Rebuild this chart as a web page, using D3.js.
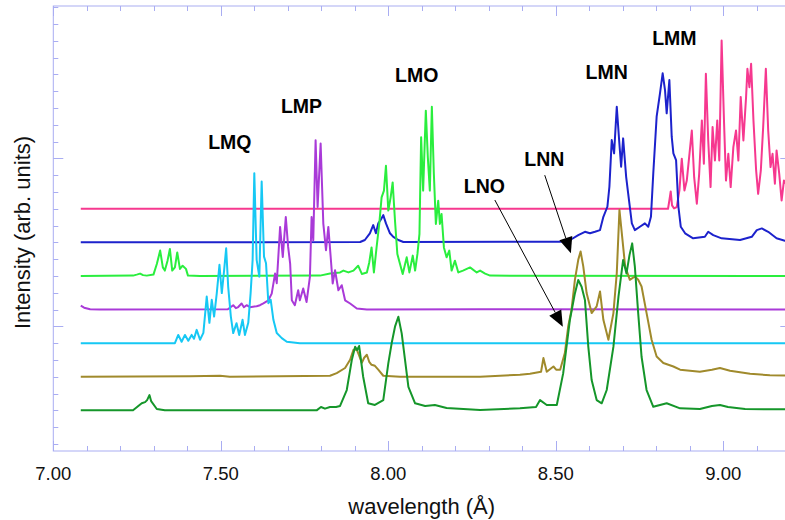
<!DOCTYPE html>
<html><head><meta charset="utf-8">
<script src="https://cdn.jsdelivr.net/npm/d3@7"></script>
<style>body{margin:0;background:#fff}svg{display:block}</style>
</head><body>
<svg id="chart" width="785" height="520"></svg>
<script>
// ---------- DATA ----------
// each spectrum: [wavelength (Å), intensity above its own baseline (arb. units)]
const specLMM = [[7.082,0],[8.835,0],[8.839,4.9],[8.843,10.3],[8.847,2],[8.853,0.2],[8.861,1],[8.869,10.9],[8.876,29.8],[8.884,10.9],[8.891,16.8],[8.899,32.7],[8.906,46.6],[8.913,18.8],[8.921,3],[8.928,20.8],[8.936,52.6],[8.942,26.8],[8.948,80.4],[8.955,40.7],[8.962,12.9],[8.968,48.6],[8.975,28.7],[8.982,52.6],[8.988,28.7],[8.995,100.2],[9.002,52.6],[9.008,16.8],[9.015,32.7],[9.022,12.9],[9.030,36.7],[9.038,46.6],[9.045,28.7],[9.052,66.6],[9.060,40.7],[9.068,66.6],[9.072,83.3],[9.078,72.4],[9.083,86.3],[9.090,52.6],[9.098,22.8],[9.104,8.9],[9.112,22.8],[9.119,48.6],[9.127,83.3],[9.134,46.6],[9.141,24.8],[9.147,32.7],[9.154,14.9],[9.159,34.7],[9.167,20.8],[9.174,4.9],[9.181,16.8],[9.199,10.9]];
const specLMN = [[7.082,0],[7.916,0.2],[7.930,1.4],[7.945,5.4],[7.955,10.3],[7.963,5.4],[7.970,11.3],[7.977,13.3],[7.985,16.2],[7.993,11.3],[8.005,5.4],[8.015,3.3],[8.030,1.4],[8.045,0.2],[8.513,0.4],[8.543,1.4],[8.567,4.3],[8.587,6.3],[8.602,5.4],[8.617,6.3],[8.632,7.3],[8.642,15.2],[8.654,21.2],[8.660,33.1],[8.667,60.9],[8.674,53],[8.682,80.7],[8.689,60.9],[8.695,45],[8.701,61.9],[8.710,39],[8.716,29.2],[8.727,11.3],[8.736,7.3],[8.751,9.3],[8.766,11.3],[8.776,9.3],[8.784,15.2],[8.791,41.1],[8.801,74.8],[8.811,88.7],[8.819,100.6],[8.826,90.6],[8.831,76.8],[8.839,96.6],[8.846,62.9],[8.851,53],[8.859,49],[8.866,21.2],[8.873,9.3],[8.886,5.4],[8.910,2.4],[8.945,3.3],[8.955,6.3],[8.970,4.3],[8.995,2.4],[9.050,1.4],[9.085,3.3],[9.100,7.3],[9.115,8.3],[9.134,6.3],[9.159,2.4],[9.184,1],[9.199,0.8]];
const specLMO = [[7.082,0],[7.238,0.2],[7.249,0.8],[7.259,1.4],[7.268,0.5],[7.279,0.2],[7.299,0.8],[7.309,7.1],[7.319,15.1],[7.327,5.1],[7.333,3.2],[7.341,9.1],[7.348,16.1],[7.355,3.2],[7.363,5.1],[7.370,14],[7.378,4.2],[7.386,6.1],[7.396,4.2],[7.402,0.2],[7.438,0],[7.796,0.2],[7.826,1.4],[7.856,2.1],[7.866,3.2],[7.881,2.1],[7.896,3.2],[7.910,6.1],[7.921,1.2],[7.936,2.1],[7.943,7.9],[7.950,17],[7.957,2.1],[7.965,17],[7.973,31],[7.980,46.8],[7.987,50.8],[7.993,65.6],[8.000,38.9],[8.007,46.8],[8.013,55.7],[8.020,32.9],[8.027,13.1],[8.035,7.1],[8.043,1.2],[8.055,11.1],[8.063,2.1],[8.073,12.1],[8.080,3.2],[8.087,13.1],[8.093,25],[8.098,82.5],[8.104,50.8],[8.112,98.4],[8.118,70.6],[8.124,50.8],[8.130,100.7],[8.136,60.7],[8.142,31],[8.149,44.8],[8.154,31],[8.159,36.9],[8.166,17],[8.174,11.1],[8.182,15.1],[8.189,3.2],[8.199,9.1],[8.209,2.1],[8.223,3.2],[8.244,5.1],[8.264,2.1],[8.274,3.2],[8.289,1.4],[8.304,0.2],[9.199,0]];
const specLMP = [[7.082,2.3],[7.092,1.1],[7.110,0.2],[7.139,0],[7.521,0.2],[7.537,2.6],[7.545,0.8],[7.552,1.5],[7.562,3.6],[7.569,1.4],[7.577,2.6],[7.587,1.4],[7.607,2],[7.617,2.6],[7.627,3.7],[7.642,5.5],[7.652,9.5],[7.662,21.4],[7.667,15.7],[7.677,49.2],[7.685,31.3],[7.694,55.1],[7.701,37.3],[7.707,27.4],[7.712,5.5],[7.721,2.6],[7.731,11.5],[7.736,5.5],[7.746,12.5],[7.756,4.5],[7.766,19.4],[7.771,55.1],[7.776,41.2],[7.783,100.8],[7.789,61.1],[7.798,98.8],[7.806,51.2],[7.814,35.3],[7.821,49.2],[7.828,31.3],[7.834,15.5],[7.841,23.4],[7.851,11.5],[7.861,14.5],[7.871,5.5],[7.886,3.6],[7.906,0.6],[7.936,0],[8.274,0.2],[9.199,0]];
const specLMQ = [[7.082,0],[7.363,0],[7.373,4.9],[7.383,0.8],[7.393,4.9],[7.403,1.4],[7.413,4.9],[7.420,2.6],[7.428,7.9],[7.438,2],[7.448,6.1],[7.458,27.7],[7.466,12.1],[7.473,25.8],[7.480,15.8],[7.488,29.8],[7.496,46.6],[7.503,29.8],[7.510,43.6],[7.516,56.5],[7.522,33.7],[7.530,15.8],[7.537,6],[7.547,11.9],[7.555,4.9],[7.565,13.9],[7.572,4.9],[7.582,12.1],[7.589,29.8],[7.595,49.6],[7.600,101.2],[7.607,49.6],[7.615,39.6],[7.622,96.2],[7.629,51.5],[7.635,47.6],[7.642,23.8],[7.649,25.8],[7.657,13.9],[7.667,6],[7.682,3],[7.697,0.8],[7.736,0],[9.199,0]];
const specLNO = [[7.082,0],[7.408,0.3],[7.498,0.6],[7.527,0],[7.826,0.6],[7.846,2.2],[7.871,5.2],[7.886,10.1],[7.896,16.1],[7.906,16.1],[7.913,12.5],[7.921,8.3],[7.928,11.3],[7.936,13.1],[7.943,8.9],[7.950,7.1],[7.960,6.5],[7.970,4.2],[7.985,0.6],[8.035,0],[8.274,0],[8.393,1.2],[8.423,1.8],[8.456,3],[8.463,11.1],[8.473,3],[8.493,6.1],[8.501,4.2],[8.513,4.2],[8.527,14.1],[8.537,29.9],[8.547,39.9],[8.557,57.7],[8.567,69.6],[8.574,74.6],[8.582,65.7],[8.592,49.8],[8.607,37.9],[8.622,41.9],[8.632,50.8],[8.642,33.9],[8.657,22],[8.672,37.9],[8.682,61.7],[8.690,99.4],[8.697,85.5],[8.707,65.7],[8.721,57.7],[8.736,59.7],[8.746,57.7],[8.756,53.7],[8.771,37.9],[8.786,22],[8.801,12.1],[8.821,8.2],[8.851,6.1],[8.871,4.2],[8.930,3],[8.966,4.2],[8.990,5.2],[9.020,3.6],[9.080,1.8],[9.139,0.9],[9.199,0.6]];
const specLNN = [[7.082,0],[7.238,0],[7.264,4.2],[7.274,4.9],[7.280,6.1],[7.287,9.1],[7.292,5.5],[7.309,0.8],[7.333,0],[7.786,0],[7.799,2],[7.811,1],[7.826,2],[7.844,2],[7.856,2.6],[7.876,12.1],[7.891,29.9],[7.901,37.9],[7.907,35.9],[7.913,38.3],[7.925,20],[7.940,4.2],[7.960,3.2],[7.985,6.1],[8.000,28],[8.010,39.9],[8.020,49.8],[8.030,55.7],[8.040,45.8],[8.050,29.9],[8.060,14],[8.080,4.2],[8.110,2.6],[8.139,3.2],[8.174,1.4],[8.274,0.2],[8.393,1.2],[8.441,2],[8.453,6.1],[8.473,3.2],[8.503,3.2],[8.522,22],[8.542,53.7],[8.557,69.6],[8.567,77.6],[8.577,73.6],[8.587,65.7],[8.597,37.9],[8.607,18],[8.622,6.1],[8.637,4.2],[8.652,12.1],[8.672,37.9],[8.687,67.6],[8.701,89.5],[8.711,81.5],[8.720,92.4],[8.728,99.4],[8.736,85.5],[8.746,57.7],[8.756,31.9],[8.771,12.1],[8.791,2.1],[8.831,4.2],[8.871,1.2],[8.930,0.8],[8.966,2.6],[8.990,3.2],[9.014,2],[9.065,0.8],[9.199,0.6]];

const seriesData    = [specLMM, specLMN, specLMO, specLMP, specLMQ, specLNO, specLNN];
const seriesOffsets = [170, 150, 130, 110, 90, 70, 50];
const seriesColors  = ["#f6388f", "#1c22cc", "#2aee3e", "#a93ad8", "#16c8f4", "#a08a2c", "#15962a"];

const peakLabels = ["LMQ", "LMP", "LMO", "LMN", "LMM", "LNN", "LNO"];
const peakLabelX = [7.527, 7.741, 8.085, 8.652, 8.854, 8.466, 8.287];
const peakLabelY = [205.4, 226.8, 245.7, 247.1, 267.6, 195.5, 179.2];

// arrows: start (x,y) -> tip (x,y)
const arrowFromX = [8.467, 8.318];
const arrowFromY = [190, 175.2];
const arrowToX   = [8.545, 8.521];
const arrowToY   = [143.5, 99.8];

const xDomain = [7.0, 9.2];
const yDomain = [25.8, 290.7];
const xMajorTicks = [7.0, 7.5, 8.0, 8.5, 9.0];

// ---------- DRAW ----------
const svg = d3.select("#chart");
const L = 53.3, R = 790.3, T = 6, B = 451;
const x = d3.scaleLinear().domain(xDomain).range([L, R]);
const y = d3.scaleLinear().domain(yDomain).range([B, T]);
const axisColor = "#a9adf2";
const font = "'Liberation Sans', Arial, Helvetica, sans-serif";

const xMinor = d3.range(70, 93).map(v => v / 10);
const yMinor = d3.range(30, 291, 10);
const isXMajor = v => xMajorTicks.some(m => Math.abs(m - v) < 1e-6);
const isYMajor = v => v % 100 === 0;

const axes = svg.append("g").attr("stroke", axisColor).attr("stroke-width", 1).attr("fill", "none");
axes.append("rect").attr("x", L).attr("y", T).attr("width", R - L).attr("height", B - T);
xMinor.forEach(v => {
  const len = isXMajor(v) ? 10 : 5;
  const px = Math.round(x(v)) + 0.5;
  axes.append("line").attr("x1", px).attr("x2", px).attr("y1", B).attr("y2", B - len);
  axes.append("line").attr("x1", px).attr("x2", px).attr("y1", T).attr("y2", T + len);
});
yMinor.forEach(v => {
  const len = isYMajor(v) ? 10 : 5;
  const py = Math.round(y(v)) + 0.5;
  axes.append("line").attr("x1", L).attr("x2", L + len).attr("y1", py).attr("y2", py);
  axes.append("line").attr("x1", R).attr("x2", R - len).attr("y1", py).attr("y2", py);
});

// tick labels
svg.append("g").selectAll("text").data(xMajorTicks).join("text")
  .attr("x", d => x(d)).attr("y", 480)
  .attr("text-anchor", "middle").attr("font-family", font).attr("font-size", 18.5).attr("fill", "#111")
  .text(d => d3.format(".2f")(d));

// axis titles
svg.append("text").attr("x", 421.7).attr("y", 514).attr("text-anchor", "middle")
  .attr("font-family", font).attr("font-size", 22).attr("fill", "#111").text("wavelength (Å)");
svg.append("text").attr("transform", "translate(30,232.5) rotate(-90)").attr("text-anchor", "middle")
  .attr("font-family", font).attr("font-size", 22).attr("fill", "#111").text("Intensity (arb. units)");

// spectra
const line = off => d3.line().x(d => x(d[0])).y(d => y(d[1] + off));
const g = svg.append("g");
seriesData.forEach((s, i) => {
  g.append("path").attr("d", line(seriesOffsets[i])(s))
    .attr("fill", "none").attr("stroke", seriesColors[i]).attr("stroke-width", 2)
    .attr("stroke-linejoin", "round");
});

// labels
svg.append("g").selectAll("text").data(peakLabels).join("text")
  .attr("x", (d, i) => x(peakLabelX[i])).attr("y", (d, i) => y(peakLabelY[i]))
  .attr("text-anchor", "middle").attr("font-family", font).attr("font-weight", "bold")
  .attr("font-size", 19.5).attr("fill", "#000").text(d => d);

// arrows
arrowFromX.forEach((_, i) => {
  const x1 = x(arrowFromX[i]), y1 = y(arrowFromY[i]), x2 = x(arrowToX[i]), y2 = y(arrowToY[i]);
  const ang = Math.atan2(y2 - y1, x2 - x1);
  const hl = 16, hw = 6.8;
  const bx = x2 - hl * Math.cos(ang), by = y2 - hl * Math.sin(ang);
  svg.append("line").attr("x1", x1).attr("y1", y1).attr("x2", bx).attr("y2", by)
    .attr("stroke", "#000").attr("stroke-width", 1);
  const p1 = [bx + hw * Math.sin(ang), by - hw * Math.cos(ang)];
  const p2 = [bx - hw * Math.sin(ang), by + hw * Math.cos(ang)];
  svg.append("path").attr("d", `M${x2},${y2}L${p1[0]},${p1[1]}L${p2[0]},${p2[1]}Z`).attr("fill", "#000");
});
</script>
</body></html>
